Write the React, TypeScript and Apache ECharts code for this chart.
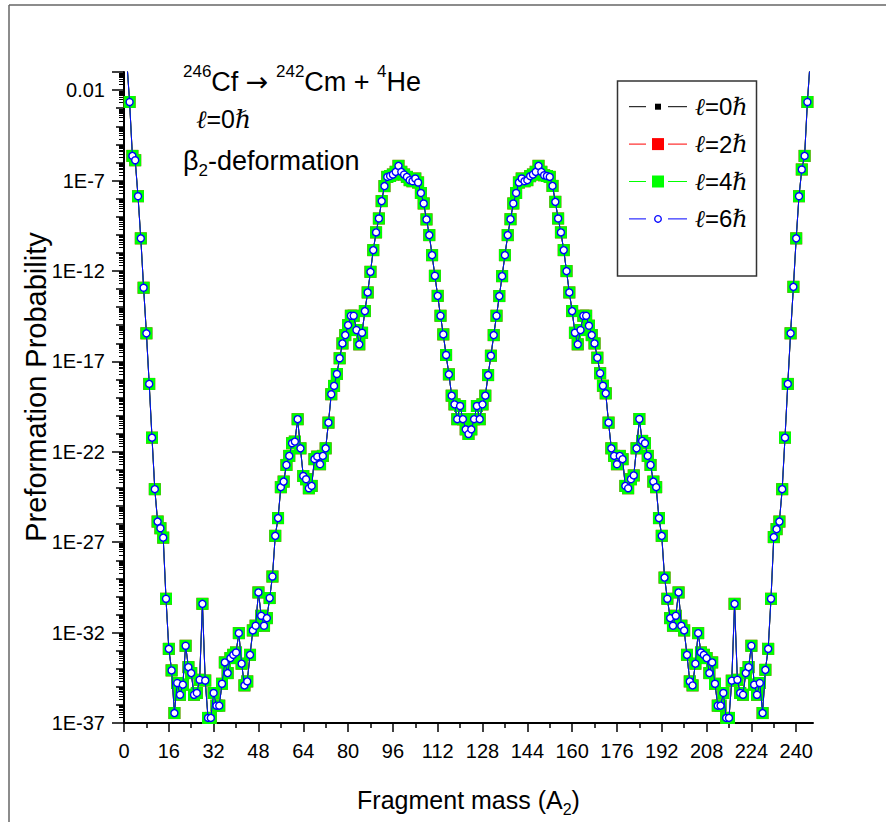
import React, { useEffect, useRef } from 'react';
import * as echarts from 'echarts';

// Fragment mass A2 of the first point; each following value is the next integer mass
const firstMass = 1;

// log10 of the preformation probability (identical for all l values)
const logP_A1_60 = [
  -0.4, -2.66, -5.64, -5.88, -7.87, -10.2, -12.93, -15.45, -18.25, -21.22,
  -24.07, -25.86, -26.23, -26.75, -30.13, -32.9, -34.09, -36.45, -34.79, -35.44,
  -34.88, -32.73, -33.91, -34.24, -35.44, -35.34, -34.61, -30.41, -34.65, -36.72,
  -36.72, -35.34, -36.04, -36.04, -34.83, -33.65, -34.24, -33.41, -33.23, -33.1,
  -32.03, -33.72, -34.92, -34.7, -33.23, -31.88, -31.62, -29.78, -31.07, -31.62,
  -31.2, -30.09, -28.9, -26.65, -25.67, -23.96, -23.65, -22.73, -22.23, -21.53,
];
const logP_A61_123 = [
  -21.44, -20.2, -21.81, -23.34, -23.52, -24.02, -23.89, -22.41, -22.27, -22.69,
  -22.23, -21.81, -20.39, -18.82, -18.36, -17.7, -16.83, -16.01, -15.55, -15.0,
  -14.48, -14.48, -15.27, -16.06, -15.42, -14.22, -13.19, -12.05, -10.85, -9.87,
  -9.1, -8.14, -7.31, -6.8, -6.75, -6.67, -6.52, -6.19, -6.52, -6.67,
  -6.8, -6.98, -7.04, -6.89, -7.11, -7.69, -8.27, -9.15, -10.02, -11.13,
  -12.27, -13.38, -14.48, -15.51, -16.65, -17.72, -18.9, -19.38, -20.2, -19.47,
  -20.2, -20.76, -21.02,
];
const logP_A124_185 = [
  -20.76, -20.2, -19.47, -20.2, -19.38, -18.9, -17.76,
  -16.69, -15.55, -14.48, -13.39, -12.29, -11.13, -10.02, -9.14, -8.27, -7.69,
  -7.11, -6.89, -7.04, -6.98, -6.76, -6.67, -6.52, -6.19, -6.52, -6.71,
  -6.75, -6.8, -7.3, -8.18, -9.1, -9.87, -10.85, -12.01, -13.19, -14.22,
  -15.42, -16.06, -15.27, -14.48, -14.48, -15.03, -15.55, -16.01, -16.8, -17.66,
  -18.35, -18.77, -20.39, -21.81, -22.23, -22.69, -22.23, -22.41, -23.89, -24.02,
  -23.52, -23.31, -21.81, -20.19, -21.4,
];
const logP_A186_245 = [
  -21.53, -22.23, -22.73, -23.65, -23.96,
  -25.67, -26.65, -28.96, -30.13, -31.2, -31.62, -31.07, -29.78, -31.62, -31.88,
  -33.23, -34.7, -34.92, -33.72, -32.03, -33.1, -33.23, -33.41, -34.24, -33.65,
  -34.83, -36.04, -36.04, -35.34, -36.72, -36.72, -34.66, -30.41, -34.61, -35.34,
  -35.44, -34.24, -33.91, -32.73, -34.88, -35.44, -34.79, -36.45, -34.06, -32.9,
  -30.13, -26.72, -26.28, -25.86, -24.07, -21.22, -18.25, -15.45, -12.88, -10.2,
  -7.87, -6.39, -5.64, -2.66, -0.4,
];

// axis ticks
const xMajorTicks = [0, 16, 32, 48, 64, 80, 96, 112, 128, 144, 160, 176, 192, 208, 224, 240];
const xMinorTicks = [8, 24, 40, 56, 72, 88, 104, 120, 136, 152, 168, 184, 200, 216, 232];
const yLabelTicks = [-37, -32, -27, -22, -17, -12, -7, -2];
const yMin = -37;
const yMax = -1;
const xMin = 0;
const xMax = 246;

const legendValues = ['0', '2', '4', '6'];
const legendLabels = legendValues.map((l) => 'ℓ=' + l + 'ℏ');

const FONT = '"Liberation Sans", Arial, Helvetica, sans-serif';
const SERIF = '"DejaVu Serif", serif';

export default function App() {
  const ref = useRef<HTMLDivElement>(null);

  useEffect(() => {
    if (!ref.current) return;
    const chart = echarts.init(ref.current, null, { renderer: 'svg' });

    const logP = [...logP_A1_60, ...logP_A61_123, ...logP_A124_185, ...logP_A186_245];
    const points = logP.map((v, i) => [firstMass + i, v]);

    const decadeTicks: number[] = [];
    for (let n = yMin; n <= yMax; n++) {
      if (!yLabelTicks.includes(n) && n !== yMax) decadeTicks.push(n);
    }
    const logMinorTicks: number[] = [];
    for (let n = yMin; n < yMax; n++) {
      for (let k = 2; k <= 9; k++) logMinorTicks.push(n + Math.log10(k));
    }

    const styles = [
      { color: '#000000', symbol: 'rect', size: 6, fill: '#000000', border: 0 },
      { color: '#ff0000', symbol: 'rect', size: 12, fill: '#ff0000', border: 0 },
      { color: '#00ff00', symbol: 'rect', size: 12, fill: '#00ff00', border: 0 },
      { color: '#0000ff', symbol: 'circle', size: 7, fill: '#ffffff', border: 1.4 },
    ];

    const series = styles.map((s, i) => ({
      name: legendLabels[i],
      type: 'line',
      xAxisIndex: 0,
      yAxisIndex: 0,
      data: points,
      symbol: s.symbol,
      symbolSize: s.size,
      showSymbol: true,
      clip: true,
      lineStyle: { color: s.color, width: 1 },
      itemStyle: { color: s.fill, borderColor: s.color, borderWidth: s.border },
      emphasis: { disabled: true },
      z: 2 + i,
    }));

    const legendGraphics: any[] = [];
    legendGraphics.push({
      type: 'rect',
      shape: { x: 617.5, y: 81, width: 139, height: 195 },
      style: { fill: '#ffffff', stroke: '#333333', lineWidth: 1.5 },
      z: 10,
    });
    styles.forEach((s, i) => {
      const y = 106.7 + i * 37.4;
      legendGraphics.push({
        type: 'line',
        shape: { x1: 629, y1: y, x2: 646, y2: y },
        style: { stroke: s.color, lineWidth: 1 },
        z: 11,
      });
      legendGraphics.push({
        type: 'line',
        shape: { x1: 668, y1: y, x2: 687, y2: y },
        style: { stroke: s.color, lineWidth: 1 },
        z: 11,
      });
      if (s.symbol === 'rect') {
        legendGraphics.push({
          type: 'rect',
          shape: { x: 658 - s.size / 2, y: y - s.size / 2, width: s.size, height: s.size },
          style: { fill: s.fill },
          z: 11,
        });
      } else {
        legendGraphics.push({
          type: 'circle',
          shape: { cx: 658, cy: y, r: 3.3 },
          style: { fill: '#ffffff', stroke: s.color, lineWidth: 1.3 },
          z: 11,
        });
      }
      legendGraphics.push({
        type: 'text',
        x: 695,
        y: y,
        style: {
          text: '{i|ℓ}{a|=' + legendValues[i] + '}{i|ℏ}',
          verticalAlign: 'middle',
          align: 'left',
          rich: {
            a: { fontSize: 24, fontFamily: FONT, fill: '#000', lineHeight: 28 },
            i: { fontSize: 24, fontFamily: SERIF, fontStyle: 'italic', fill: '#000', lineHeight: 28 },
          },
        },
        z: 11,
      });
    });

    const option: any = {
      animation: false,
      backgroundColor: '#ffffff',
      grid: {
        left: 124,
        right: 73,
        top: 72,
        bottom: 99,
        containLabel: false,
        outerBoundsMode: 'none',
      },
      xAxis: [
        {
          type: 'value',
          min: xMin,
          max: xMax,
          position: 'bottom',
          axisLine: { show: true, onZero: false, lineStyle: { color: '#000', width: 2 } },
          axisTick: {
            show: true,
            length: 9,
            customValues: xMajorTicks,
            lineStyle: { color: '#000', width: 1.5 },
          },
          axisLabel: {
            show: true,
            customValues: xMajorTicks,
            fontSize: 20,
            fontFamily: FONT,
            color: '#000',
            margin: 18,
          },
          splitLine: { show: false },
          name: '{a|Fragment mass (A}{s|2}{a|)}',
          nameLocation: 'middle',
          nameGap: 60,
          nameTextStyle: {
            rich: {
              a: { fontSize: 25, fontFamily: FONT, color: '#000', lineHeight: 34 },
              s: { fontSize: 16, fontFamily: FONT, color: '#000', lineHeight: 16, verticalAlign: 'bottom' },
            },
          },
        },
        {
          type: 'value',
          min: xMin,
          max: xMax,
          position: 'bottom',
          axisLine: { show: false, onZero: false },
          axisTick: {
            show: true,
            length: 5,
            customValues: xMinorTicks,
            lineStyle: { color: '#000', width: 1.5 },
          },
          axisLabel: { show: false },
          splitLine: { show: false },
        },
      ],
      yAxis: [
        {
          type: 'value',
          min: yMin,
          max: yMax,
          position: 'left',
          axisLine: { show: true, onZero: false, lineStyle: { color: '#000', width: 2 } },
          axisTick: {
            show: true,
            length: 12,
            customValues: [...yLabelTicks, yMax],
            lineStyle: { color: '#000', width: 1.5 },
          },
          axisLabel: {
            show: true,
            customValues: yLabelTicks,
            fontSize: 20,
            fontFamily: FONT,
            color: '#000',
            margin: 19,
            formatter: (v: number) => (Math.abs(v + 2) < 1e-9 ? '0.01' : '1E' + Math.round(v)),
          },
          splitLine: { show: false },
        },
        {
          type: 'value',
          min: yMin,
          max: yMax,
          position: 'left',
          axisLine: { show: false, onZero: false },
          axisTick: {
            show: true,
            length: 8,
            customValues: decadeTicks,
            lineStyle: { color: '#000', width: 1.5 },
          },
          axisLabel: { show: false },
          splitLine: { show: false },
        },
        {
          type: 'value',
          min: yMin,
          max: yMax,
          position: 'left',
          axisLine: { show: false, onZero: false },
          axisTick: {
            show: true,
            length: 5,
            customValues: logMinorTicks,
            lineStyle: { color: '#000', width: 1 },
          },
          axisLabel: { show: false },
          splitLine: { show: false },
        },
      ],
      series,
      graphic: [
        {
          type: 'line',
          shape: { x1: 9, y1: 5, x2: 886, y2: 5 },
          style: { stroke: '#666666', lineWidth: 1.5 },
        },
        {
          type: 'line',
          shape: { x1: 9, y1: 5, x2: 9, y2: 822 },
          style: { stroke: '#666666', lineWidth: 1.5 },
        },
        {
          type: 'text',
          x: 36,
          y: 387,
          rotation: Math.PI / 2,
          style: {
            text: 'Preformation Probability',
            font: '29px ' + FONT,
            fill: '#000',
            align: 'center',
            verticalAlign: 'middle',
          },
        },
        {
          type: 'text',
          x: 183,
          y: 63,
          style: {
            text: '{s|246}{a|Cf }{r|→}{a| }{s|242}{a|Cm + }{s|4}{a|He}',
            verticalAlign: 'top',
            align: 'left',
            rich: {
              a: { fontSize: 27, fontFamily: FONT, fill: '#000', lineHeight: 37 },
              r: { fontSize: 27, fontFamily: '"DejaVu Sans", sans-serif', fill: '#000', lineHeight: 37 },
              s: { fontSize: 17, fontFamily: FONT, fill: '#000', lineHeight: 18, verticalAlign: 'top' },
            },
          },
          z: 5,
        },
        {
          type: 'text',
          x: 196,
          y: 119,
          style: {
            text: '{i|ℓ}{a|=0}{i|ℏ}',
            verticalAlign: 'middle',
            align: 'left',
            rich: {
              a: { fontSize: 25, fontFamily: FONT, fill: '#000', lineHeight: 30 },
              i: { fontSize: 25, fontFamily: SERIF, fontStyle: 'italic', fill: '#000', lineHeight: 30 },
            },
          },
          z: 5,
        },
        {
          type: 'text',
          x: 183,
          y: 143,
          style: {
            text: '{a|β}{s|2}{a|-deformation}',
            verticalAlign: 'top',
            align: 'left',
            rich: {
              a: { fontSize: 27, fontFamily: FONT, fill: '#000', lineHeight: 36 },
              s: { fontSize: 17, fontFamily: FONT, fill: '#000', lineHeight: 18, verticalAlign: 'bottom' },
            },
          },
          z: 5,
        },
        ...legendGraphics,
      ],
    };

    chart.setOption(option);
    return () => chart.dispose();
  }, []);

  return (
    <div
      ref={ref}
      style={{ position: 'absolute', left: 0, top: 0, width: 886, height: 822, background: '#fff' }}
    />
  );
}
